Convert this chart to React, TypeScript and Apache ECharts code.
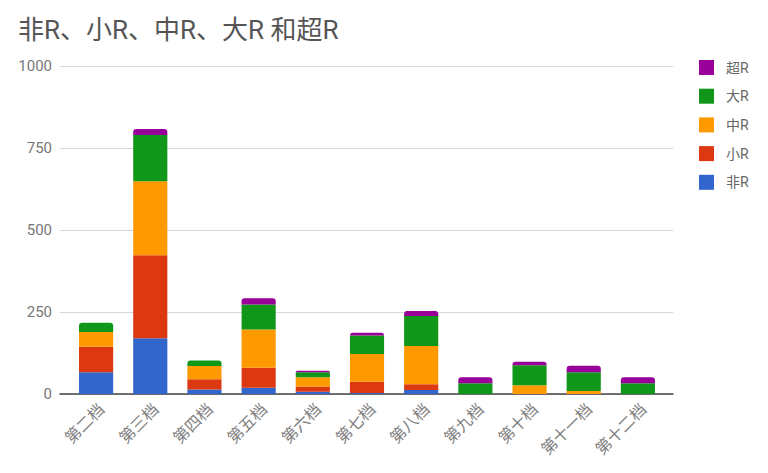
import React, { useEffect, useRef } from "react";
import * as echarts from "echarts";

const categories = ["第二档", "第三档", "第四档", "第五档", "第六档", "第七档", "第八档", "第九档", "第十档", "第十一档", "第十二档"];
const seriesNames = ["非R", "小R", "中R", "大R", "超R"];
const feiR = [66, 170, 14, 19, 7, 3, 12, 0, 0, 0, 0];
const xiaoR = [78, 253, 31, 61, 15, 34, 18, 0, 0, 0, 0];
const zhongR = [45, 226, 40, 117, 29, 85, 116, 0, 27, 9, 0];
const daR = [28, 141, 17, 76, 15, 56, 92, 33, 61, 57, 33];
const chaoR = [0, 18, 0, 19, 5, 9, 15, 18, 10, 20, 18];
const yTicks = [0, 250, 500, 750, 1000];
const title = "非R、小R、中R、大R 和超R";

const colors = ["#3366cc", "#dc3912", "#ff9900", "#109618", "#990099"];
const FONT = "Roboto, 'Noto Sans CJK SC', sans-serif";

export default function App() {
  const ref = useRef<HTMLDivElement>(null);
  useEffect(() => {
    if (!ref.current) return;
    const chart = echarts.init(ref.current, null, { renderer: "svg" });
    const all = [feiR, xiaoR, zhongR, daR, chaoR];
    const topIdx = categories.map((_, c) => {
      let t = -1;
      all.forEach((arr, s) => {
        if (arr[c] > 0) t = s;
      });
      return t;
    });
    const series = all.map((arr, s) => ({
      name: seriesNames[s],
      type: "bar",
      stack: "total",
      xAxisIndex: 1,
      yAxisIndex: 1,
      barWidth: "63%",
      itemStyle: { color: colors[s] },
      data: arr.map((v, c) => ({
        value: v,
        itemStyle: topIdx[c] === s ? { borderRadius: [3, 3, 0, 0] } : undefined,
      })),
    }));
    const yMin = yTicks[0];
    const yMax = yTicks[yTicks.length - 1];
    const yInt = yTicks[1] - yTicks[0];
    chart.setOption({
      animation: false,
      textStyle: { fontFamily: FONT },
      title: {
        text: title,
        left: 13,
        top: 12,
        textStyle: { fontSize: 26, fontWeight: "normal", color: "#555", fontFamily: FONT },
      },
      legend: {
        orient: "vertical",
        left: 694,
        top: 55,
        itemWidth: 15,
        itemHeight: 15,
        itemGap: 13.7,
        icon: "rect",
        data: ["超R", "大R", "中R", "小R", "非R"],
        textStyle: { fontSize: 14, color: "#666", fontFamily: FONT, padding: [0, 0, 0, 7] },
      },
      grid: [
        { left: 60, right: 95, top: 66, bottom: 79 },
        { left: 69, right: 103, top: 66, bottom: 79 },
      ],
      xAxis: [
        {
          type: "value",
          gridIndex: 0,
          min: 0,
          max: 1,
          axisLabel: { show: false },
          axisTick: { show: false },
          splitLine: { show: false },
          axisLine: { show: true, onZero: false, lineStyle: { color: "#444", width: 1.5 } },
        },
        {
          type: "category",
          gridIndex: 1,
          data: categories,
          axisTick: { show: false },
          axisLine: { show: false },
          axisLabel: {
            rotate: 45,
            margin: 7,
            fontSize: 16,
            color: "#808080",
            fontFamily: FONT,
            interval: 0,
            verticalAlign: "top",
          },
        },
      ],
      yAxis: [
        {
          type: "value",
          gridIndex: 0,
          min: yMin,
          max: yMax,
          interval: yInt,
          axisLine: { show: false },
          axisTick: { show: false },
          splitLine: { lineStyle: { color: "#d6d6d6", width: 1 } },
          axisLabel: {
            fontSize: 15,
            color: "#777",
            margin: 8,
            fontFamily: FONT,
            formatter: (v: number) => String(v),
          },
        },
        {
          type: "value",
          gridIndex: 1,
          min: yMin,
          max: yMax,
          interval: yInt,
          show: false,
          splitLine: { show: false },
        },
      ],
      series,
    });
    return () => chart.dispose();
  }, []);
  return (
    <div
      ref={ref}
      style={{ position: "fixed", left: 0, top: 0, width: 768, height: 473, background: "#fff" }}
    />
  );
}
